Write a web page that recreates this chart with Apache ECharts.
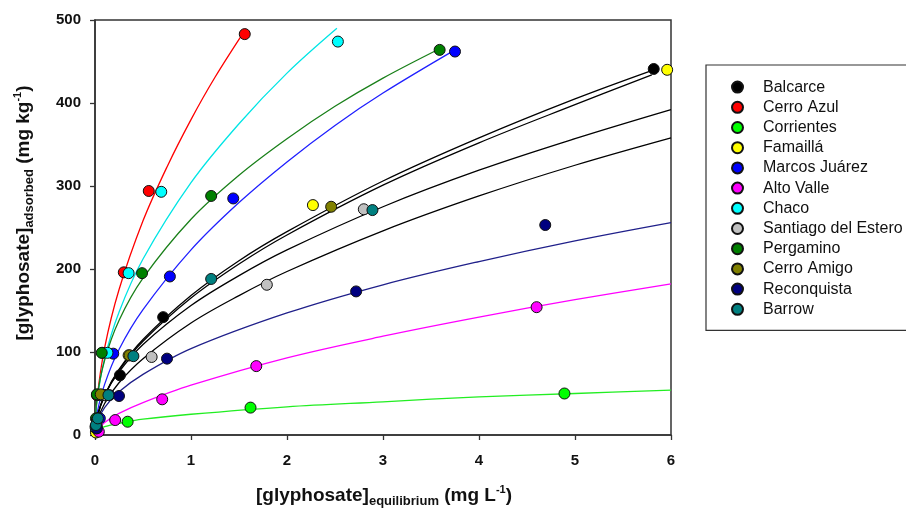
<!DOCTYPE html>
<html><head><meta charset="utf-8">
<script src="https://cdn.jsdelivr.net/npm/echarts@6/dist/echarts.min.js"></script>
<style>html,body{margin:0;padding:0;background:#fff}#c{width:906px;height:511px}</style>
</head><body><div id="c"></div>
<script>
// ---- tick labels ----
const xTicks = [0, 1, 2, 3, 4, 5, 6];
const yTicks = [0, 100, 200, 300, 400, 500];

// ---- soils (legend order) ----
const soilNames = ['Balcarce','Cerro Azul','Corrientes','Famaillá','Marcos Juárez','Alto Valle','Chaco','Santiago del Estero','Pergamino','Cerro Amigo','Reconquista','Barrow'];

// ---- measured points [Ce (mg/L), Cs (mg/kg)] ----
const ptsBalcarce   = [[0.01,4],[0.04,20],[0.10,48],[0.26,72],[0.71,142],[5.82,441]];
const ptsCerroAzul  = [[0.005,10],[0.02,48],[0.08,99],[0.30,196],[0.56,294],[1.56,483]];
const ptsCorrientes = [[0.02,5],[0.34,16],[1.62,33],[4.89,50]];
const ptsFamailla   = [[0.01,3],[0.03,20],[0.12,48],[0.35,96],[2.27,277],[5.96,440]];
const ptsMarcos     = [[0.01,8],[0.05,20],[0.15,48],[0.19,98],[0.78,191],[1.44,285],[3.75,462]];
const ptsAltoValle  = [[0.04,4],[0.21,18],[0.70,43],[1.68,83],[4.60,154]];
const ptsChaco      = [[0.01,8],[0.05,48],[0.13,99],[0.35,195],[0.69,293],[2.53,474]];
const ptsSantiago   = [[0.02,10],[0.10,48],[0.59,94],[1.79,181],[2.80,272]];
const ptsPergamino  = [[0.01,20],[0.02,49],[0.07,99],[0.49,195],[1.21,288],[3.59,464]];
const ptsCerroAmigo = [[0.02,18],[0.06,49],[0.36,96],[2.46,275]];
const ptsReconquista= [[0.02,8],[0.25,47],[0.75,92],[2.72,173],[4.69,253]];
const ptsBarrow     = [[0.01,12],[0.03,20],[0.14,48],[0.40,95],[1.21,188],[2.89,271]];

// ---- fitted curves ----
const fitCerroAzul  = [[0,0],[0.02,42],[0.1,105],[0.25,175],[0.5,258],[0.75,323],[1,380],[1.25,431],[1.57,489]];
const fitChaco      = [[0,0],[0.02,40],[0.1,92],[0.25,148],[0.5,212],[1,304],[1.5,375],[2,436],[2.52,490]];
const fitPergamino  = [[0,0],[0.02,43],[0.1,90],[0.25,138],[0.5,189],[1,260],[1.5,313],[2,357],[2.5,396],[3,430],[3.6,466]];
const fitMarcos     = [[0,0],[0.02,25],[0.1,61],[0.25,103],[0.5,151],[1,223],[1.5,280],[2,329],[2.5,373],[3,412],[3.75,464]];
const fitBalcarce   = [[0,0],[0.02,20],[0.1,48],[0.25,79],[0.5,115],[1,168],[1.5,210],[2,245],[3,306],[4,358],[5,405],[5.82,440]];
const fitCerroAmigo = [[0,0],[0.02,20],[0.1,47],[0.25,78],[0.5,113],[1,165],[1.5,206],[2,241],[3,301],[4,352],[5,398],[5.8,434]];
const fitBarrow     = [[0,0],[0.02,21],[0.1,48],[0.25,76],[0.5,109],[1,156],[1.5,192],[2,223],[3,275],[4,319],[5,357],[6,392]];
const fitSantiago   = [[0,0],[0.02,16],[0.1,38],[0.25,63],[0.5,92],[1,135],[1.5,168],[2,197],[3,246],[4,288],[5,325],[6,358]];
const fitReconquista= [[0,0],[0.02,15],[0.1,33],[0.25,52],[0.5,73],[1,104],[2,147],[3,181],[4,209],[5,234],[6,256]];
const fitAltoValle  = [[0,0],[0.02,5],[0.1,15],[0.25,26],[0.5,39],[1,60],[2,93],[3,119],[4,142],[5,163],[6,182]];
const fitCorrientes = [[0,0],[0.02,5],[0.1,10],[0.25,14],[0.5,19],[1,25],[2,34],[3,40],[4,46],[5,50],[6,54]];

const pointSets = [ptsBalcarce, ptsCerroAzul, ptsCorrientes, ptsFamailla, ptsMarcos, ptsAltoValle, ptsChaco, ptsSantiago, ptsPergamino, ptsCerroAmigo, ptsReconquista, ptsBarrow];
const markerColors = ['#000000','#ff0000','#00ff00','#ffff00','#0000ff','#ff00ff','#00ffff','#c0c0c0','#008000','#808000','#000080','#008080'];

const fits = [
  {d: fitCerroAzul, c: '#ff0000'},
  {d: fitChaco, c: '#00e5e5'},
  {d: fitPergamino, c: '#1a801a'},
  {d: fitMarcos, c: '#2020ff'},
  {d: fitBalcarce, c: '#000000'},
  {d: fitCerroAmigo, c: '#000000'},
  {d: fitBarrow, c: '#000000'},
  {d: fitSantiago, c: '#000000'},
  {d: fitReconquista, c: '#20208a'},
  {d: fitAltoValle, c: '#ff00ff'},
  {d: fitCorrientes, c: '#22ee22'}
];

const FONT = 'Liberation Sans, Arial, sans-serif';
const chart = echarts.init(document.getElementById('c'), null, {renderer: 'canvas'});

const series = [];
fits.forEach((f, i) => {
  series.push({
    name: 'fit' + i, type: 'line', data: f.d, smooth: 0.35, showSymbol: false, symbol: 'none',
    lineStyle: {color: f.c, width: 1.3}, z: 2, silent: true, animation: false
  });
});
pointSets.forEach((p, i) => {
  series.push({
    name: soilNames[i], type: 'scatter', data: p, symbol: 'circle', symbolSize: 11,
    itemStyle: {color: markerColors[i], borderColor: '#111', borderWidth: 1, opacity: 1},
    z: 3, animation: false
  });
});

const richTitle = {
  m: {fontSize: 19, fontWeight: 'bold', fontFamily: FONT, fill: '#111', lineHeight: 24, verticalAlign: 'middle'},
  s: {fontSize: 13, fontWeight: 'bold', fontFamily: FONT, fill: '#111', lineHeight: 11, verticalAlign: 'bottom'},
  p: {fontSize: 11, fontWeight: 'bold', fontFamily: FONT, fill: '#111', lineHeight: 11, verticalAlign: 'top'}
};

chart.setOption({
  animation: false,
  backgroundColor: '#fff',
  grid: {left: 95, right: 235, top: 20, bottom: 76, show: true, borderColor: '#333', borderWidth: 1.5, backgroundColor: 'transparent'},
  xAxis: {
    type: 'value', min: xTicks[0], max: xTicks[xTicks.length-1], interval: 1,
    axisLine: {show: true, onZero: false, lineStyle: {color: '#333', width: 1.5}},
    axisTick: {show: true, inside: false, length: 5, lineStyle: {color: '#333', width: 1.3}},
    splitLine: {show: false},
    axisLabel: {margin: 18, fontSize: 15, fontWeight: 'bold', color: '#111', fontFamily: FONT,
      formatter: v => xTicks.includes(v) ? String(v) : ''}
  },
  yAxis: {
    type: 'value', min: yTicks[0], max: yTicks[yTicks.length-1], interval: 100,
    axisLine: {show: true, onZero: false, lineStyle: {color: '#333', width: 1.5}},
    axisTick: {show: true, inside: false, length: 5, lineStyle: {color: '#333', width: 1.3}},
    splitLine: {show: false},
    axisLabel: {margin: 14, fontSize: 15, fontWeight: 'bold', color: '#111', fontFamily: FONT,
      formatter: v => yTicks.includes(v) ? String(v) : ''}
  },
  legend: {
    data: soilNames, orient: 'vertical', left: 706, top: 65,
    padding: [13, 60, 12, 25], itemGap: 2, itemWidth: 11, itemHeight: 11,
    borderColor: '#333', borderWidth: 1.2, icon: 'circle',
    textStyle: {fontSize: 16, color: '#111', fontFamily: FONT, padding: [0, 0, 0, 15], lineHeight: 18.2}
  },
  graphic: [
    {
      type: 'text', x: 384, y: 496,
      style: {
        text: '{m|[glyphosate]}{s|equilibrium}{m| (mg L}{p|-1}{m|)}',
        align: 'center', verticalAlign: 'middle',
        rich: richTitle
      }
    },
    {
      type: 'text', x: 24, y: 213, rotation: Math.PI / 2,
      style: {
        text: '{m|[glyphosate]}{s|adsorbed}{m| (mg kg}{p|-1}{m|)}',
        align: 'center', verticalAlign: 'middle',
        rich: richTitle
      }
    }
  ],
  series: series
});
</script>
</body></html>
